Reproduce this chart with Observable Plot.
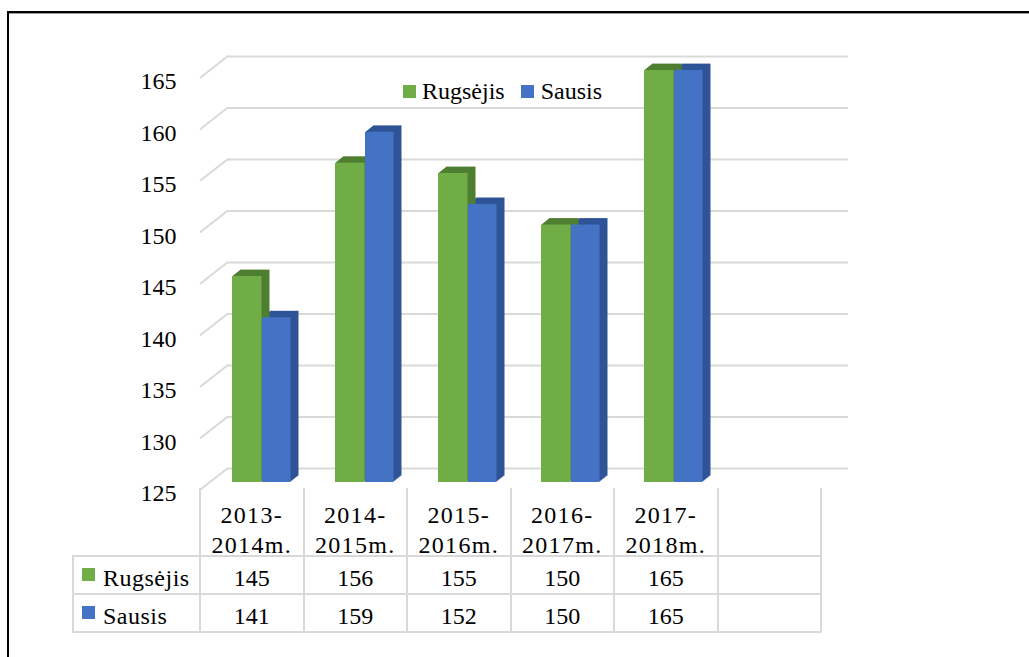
<!DOCTYPE html>
<html>
<head>
<meta charset="utf-8">
<script src="https://cdn.jsdelivr.net/npm/d3@7"></script>
<script src="https://cdn.jsdelivr.net/npm/@observablehq/plot@0.6"></script>
<style>
  html, body { margin: 0; padding: 0; background: #fff; }
  #wrap { position: relative; width: 1029px; height: 657px; overflow: hidden; font-family: 'Liberation Serif', 'DejaVu Serif', serif; color: #000; }
  #wrap svg { position: absolute; left: 0; top: 0; }
  #wrap svg text { font-family: 'Liberation Serif', 'DejaVu Serif', serif; }
  .abs { position: absolute; }
  .line { position: absolute; background: #d9d9d9; }
  .cell { position: absolute; text-align: center; font-size: 24px; white-space: nowrap; font-family: 'Liberation Serif', 'DejaVu Serif', serif; }
  .hdr { letter-spacing: 1.3px; line-height: 30px; }
  .sw { position: absolute; width: 13px; height: 13px; }
</style>
</head>
<body>
<div id="wrap"></div>
<script>
// ---- data ----
const categories = ["2013-2014m.", "2014-2015m.", "2015-2016m.", "2016-2017m.", "2017-2018m."];
const headerTop = ["2013-", "2014-", "2015-", "2016-", "2017-"];
const headerBottom = ["2014m.", "2015m.", "2016m.", "2017m.", "2018m."];
const seriesNames = ["Rugsėjis", "Sausis"];
const rugsejis = [145, 156, 155, 150, 165];
const sausis = [141, 159, 152, 150, 165];
const yTicks = [125, 130, 135, 140, 145, 150, 155, 160, 165];

// ---- styles ----
const frontColors = ["#70ad47", "#4472c4"];
const sideColors = ["#4f7f31", "#2f5597"];
const gridColor = "#d9d9d9";
const serif = "'Liberation Serif', 'DejaVu Serif', serif";

const rows = categories.flatMap((c, i) => [
  {cat: c, series: seriesNames[0], value: rugsejis[i]},
  {cat: c, series: seriesNames[1], value: sausis[i]}
]);
const green = rows.filter(d => d.series === seriesNames[0]);
const blue = rows.filter(d => d.series === seriesNames[1]);
const base = yTicks[0];

const W = 1029, H = 657, ML = 200, MR = 208, MT = 77, MB = 168;
const xDomain = [...categories, ""];
const bw = (W - ML - MR) / xDomain.length;

const gInset = {insetLeft: 30, insetRight: bw - 60};
const bInset = {insetLeft: 60, insetRight: bw - 89};
const frontDy = -7;

function extrude(data, inset, color) {
  const layers = [];
  for (let t = 8; t >= 1; t--) {
    layers.push(Plot.barY(data, {x: "cat", y1: () => base, y2: "value", ...inset,
      dx: t, dy: frontDy - t * 0.8, fill: color}));
  }
  return layers;
}

const chart = Plot.plot({
  width: W, height: H,
  marginLeft: ML, marginRight: MR, marginTop: MT, marginBottom: MB,
  x: {type: "band", domain: xDomain, padding: 0, axis: null},
  y: {domain: [yTicks[0], yTicks[yTicks.length - 1]], axis: null},
  style: {background: "transparent", fontFamily: serif, overflow: "visible"},
  marks: [
    Plot.ruleY(yTicks, {y: d => d, dx: 27, dy: -21, stroke: gridColor, strokeWidth: 2}),
    Plot.vector(yTicks, {y: d => d, frameAnchor: "left", length: 34, rotate: 52, anchor: "start", r: 0,
      stroke: gridColor, strokeWidth: 2}),
    Plot.text(yTicks, {y: d => d, text: d => String(d), frameAnchor: "left", dx: -24, dy: 4,
      textAnchor: "end", fontSize: 24, fill: "#000", fontFamily: serif}),
    ...extrude(blue, bInset, sideColors[1]),
    ...extrude(green, gInset, sideColors[0]),
    Plot.barY(green, {x: "cat", y1: () => base, y2: "value", ...gInset, dy: frontDy, fill: frontColors[0]}),
    Plot.barY(blue, {x: "cat", y1: () => base, y2: "value", ...bInset, dy: frontDy, fill: frontColors[1]})
  ]
});

const wrap = document.getElementById("wrap");
wrap.appendChild(chart);

function add(html) { wrap.insertAdjacentHTML("beforeend", html); }

// outer frame
add(`<div class="abs" style="left:7px;top:11px;width:1040px;height:2px;background:#000"></div>`);
add(`<div class="abs" style="left:7px;top:13px;width:1040px;height:1px;background:#999"></div>`);
add(`<div class="abs" style="left:7px;top:11px;width:2px;height:660px;background:#000"></div>`);

// legend
add(`<div class="abs" style="left:403px;top:76px;font-size:24px;line-height:30px;white-space:nowrap;font-family:${serif}">
  <span style="display:inline-block;width:13px;height:13px;background:${frontColors[0]};margin-right:6px;vertical-align:1px"></span>${seriesNames[0]}<span style="display:inline-block;width:13px;height:13px;background:${frontColors[1]};margin:0 7px 0 16px;vertical-align:1px"></span>${seriesNames[1]}
</div>`);

// data table
const tTop = 488, r1 = 556, r2 = 594, r3 = 632, tLeft = 73;
for (let i = 0; i <= xDomain.length; i++) {
  const x = ML + i * bw;
  add(`<div class="line" style="left:${x - 1}px;top:${tTop}px;width:2px;height:${r3 - tTop + 1}px"></div>`);
}
add(`<div class="line" style="left:${tLeft - 1}px;top:${r1}px;width:2px;height:${r3 - r1 + 1}px"></div>`);
[r1, r2, r3].forEach(y => add(`<div class="line" style="left:${tLeft - 1}px;top:${y - 1}px;width:${ML + xDomain.length * bw - tLeft + 2}px;height:2px"></div>`));

categories.forEach((c, i) => {
  const x = ML + i * bw;
  add(`<div class="cell hdr" style="left:${x}px;top:500px;width:${bw}px">${headerTop[i]}<br>${headerBottom[i]}</div>`);
  add(`<div class="cell" style="left:${x}px;top:${r1 + 6}px;width:${bw}px;line-height:32px">${rugsejis[i]}</div>`);
  add(`<div class="cell" style="left:${x}px;top:${r2 + 6}px;width:${bw}px;line-height:32px">${sausis[i]}</div>`);
});
[[r1, 0], [r2, 1]].forEach(([y, k]) => {
  add(`<div class="sw" style="left:82px;top:${y + 12}px;background:${frontColors[k]}"></div>`);
  add(`<div class="cell" style="left:103px;top:${y + 6}px;text-align:left;line-height:32px;letter-spacing:0.5px">${seriesNames[k]}</div>`);
});
</script>
</body>
</html>
